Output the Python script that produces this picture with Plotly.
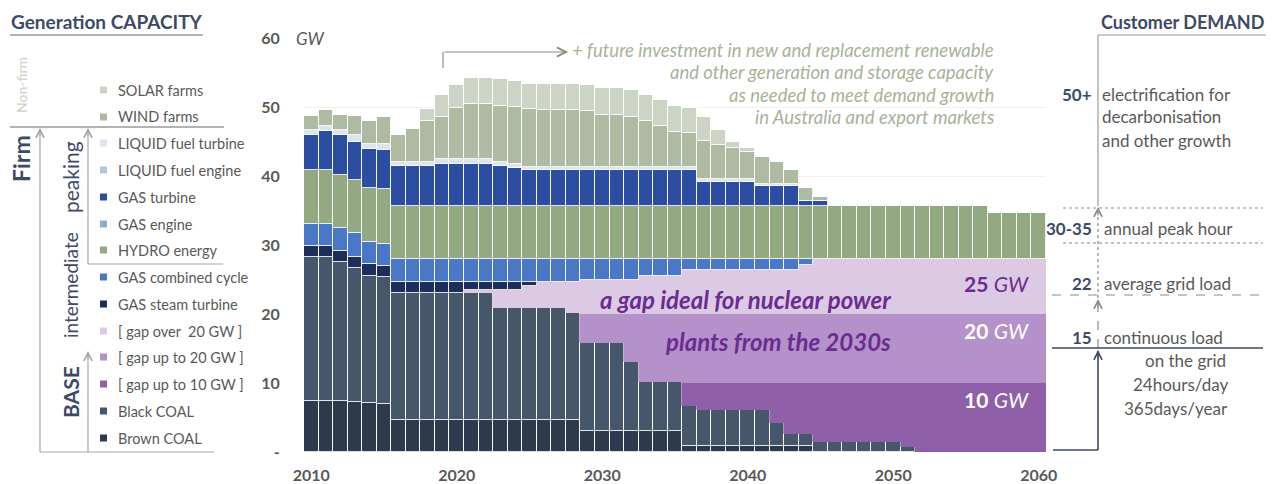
import plotly.graph_objects as go

# ---------------- data (GW) ----------------
years = list(range(2010, 2061))

brown_coal = [7.4, 7.4, 7.4, 7.3, 7.1, 6.9, 4.6, 4.6, 4.6, 4.6,
              4.6, 4.6, 4.6, 4.6, 4.6, 4.6, 4.6, 4.6, 4.6, 3.1,
              3.1, 3.1, 3.1, 3.1, 3.1, 3.1, 0.8, 0.8, 0.8, 0.8,
              0.8, 0.8, 0.8, 0.8, 0.8, 0, 0, 0, 0, 0,
              0, 0, 0, 0, 0, 0, 0, 0, 0, 0, 0]
black_coal = [20.9, 20.9, 20.1, 19.3, 18.4, 18.4, 18.5, 18.5, 18.5, 18.5,
              18.5, 18.5, 18.5, 16.2, 16.2, 16.2, 16.2, 16.2, 15.6, 12.7,
              12.7, 12.7, 9.9, 7.1, 7.1, 7.1, 5.8, 5.3, 5.3, 5.3,
              5.3, 5.3, 3.4, 1.8, 1.8, 1.5, 1.5, 1.5, 1.5, 1.5,
              1.5, 0.7, 0, 0, 0, 0, 0, 0, 0, 0, 0]
gap_up_to_10 = [0, 0, 0, 0, 0, 0, 0, 0, 0, 0,
                0, 0, 0, 0, 0, 0, 0, 0, 0, 0,
                0, 0, 0, 0, 0, 0, 3.4, 3.9, 3.9, 3.9,
                3.9, 3.9, 5.8, 7.4, 7.4, 8.5, 8.5, 8.5, 8.5, 8.5,
                8.5, 9.3, 10, 10, 10, 10, 10, 10, 10, 10, 10]
gap_up_to_20 = [0, 0, 0, 0, 0, 0, 0, 0, 0, 0,
                0, 0, 0, 0, 0, 0, 0, 0, 0, 4.2,
                4.2, 4.2, 7.0, 9.8, 9.8, 9.8, 10, 10, 10, 10,
                10, 10, 10, 10, 10, 10, 10, 10, 10, 10,
                10, 10, 10, 10, 10, 10, 10, 10, 10, 10, 10]
gap_over_20 = [0, 0, 0, 0, 0, 0, 0, 0, 0, 0,
               0, 0.4, 0.4, 2.7, 2.7, 3.3, 3.9, 3.9, 4.5, 5.0,
               5.0, 5.0, 5.0, 5.5, 5.5, 5.5, 6.4, 6.4, 6.4, 6.4,
               6.4, 6.4, 6.4, 6.4, 7.1, 8.0, 8.0, 8.0, 8.0, 8.0,
               8.0, 8.0, 8.0, 8.0, 8.0, 8.0, 8.0, 8.0, 8.0, 8.0, 8.0]
gas_steam = [1.55, 1.55, 1.7, 1.7, 1.7, 1.6, 1.6, 1.6, 1.6, 1.6,
             1.6, 1.2, 1.2, 1.2, 1.2, 0.6, 0, 0, 0, 0,
             0, 0, 0, 0, 0, 0, 0, 0, 0, 0,
             0, 0, 0, 0, 0, 0, 0, 0, 0, 0,
             0, 0, 0, 0, 0, 0, 0, 0, 0, 0, 0]
gas_cc = [3.15, 3.15, 3.2, 3.4, 3.3, 3.3, 3.3, 3.3, 3.3, 3.3,
          3.3, 3.3, 3.3, 3.3, 3.3, 3.3, 3.3, 3.3, 3.3, 3.0,
          3.0, 3.0, 3.0, 2.5, 2.5, 2.5, 1.6, 1.6, 1.6, 1.6,
          1.6, 1.6, 1.6, 1.6, 0.9, 0, 0, 0, 0, 0,
          0, 0, 0, 0, 0, 0, 0, 0, 0, 0, 0]
hydro = [7.9, 7.9, 7.7, 7.7, 7.8, 7.9, 7.6, 7.6, 7.6, 7.6,
         7.6, 7.6, 7.6, 7.6, 7.6, 7.6, 7.6, 7.6, 7.6, 7.6,
         7.6, 7.6, 7.6, 7.6, 7.6, 7.6, 7.6, 7.6, 7.6, 7.6,
         7.6, 7.6, 7.6, 7.6, 7.6, 7.6, 7.6, 7.6, 7.6, 7.6,
         7.6, 7.6, 7.6, 7.6, 7.6, 7.6, 7.6, 6.7, 6.7, 6.7, 6.7]
gas_turbine = [5.0, 5.6, 5.8, 5.6, 5.6, 5.7, 5.8, 5.8, 5.8, 6.1,
               6.1, 6.1, 6.1, 5.8, 5.5, 5.3, 5.3, 5.3, 5.3, 5.3,
               5.3, 5.3, 5.3, 5.3, 5.3, 5.3, 5.3, 3.6, 3.6, 3.6,
               3.6, 2.9, 2.9, 2.9, 0.8, 0.8, 0, 0, 0, 0,
               0, 0, 0, 0, 0, 0, 0, 0, 0, 0, 0]
liquid_turbine = [0.8, 0.8, 0.8, 0.9, 0.8, 0.8, 0.7, 0.7, 0.7, 0.7,
                  0.7, 0.7, 0.7, 0.7, 0.7, 0.4, 0.4, 0.4, 0.4, 0.4,
                  0.4, 0.4, 0.4, 0.4, 0.4, 0.4, 0.4, 0.3, 0.3, 0.3,
                  0.3, 0.3, 0.3, 0.3, 0, 0, 0, 0, 0, 0,
                  0, 0, 0, 0, 0, 0, 0, 0, 0, 0, 0]
wind = [2.0, 2.3, 2.2, 2.8, 3.3, 3.9, 3.9, 4.7, 5.8, 6.2,
        7.4, 8.0, 8.0, 8.1, 8.2, 8.4, 8.3, 8.3, 8.2, 8.1,
        7.5, 7.5, 7.3, 6.6, 5.9, 5.1, 4.9, 5.6, 5.0, 4.5,
        4.0, 4.0, 3.3, 2.1, 1.8, 0.6, 0, 0, 0, 0,
        0, 0, 0, 0, 0, 0, 0, 0, 0, 0, 0]
solar = [0, 0, 0, 0, 0, 0, 0, 0, 1.8, 3.1,
         3.4, 3.8, 3.8, 3.8, 3.7, 3.7, 3.8, 3.8, 3.8, 3.8,
         3.9, 3.9, 3.9, 3.8, 3.8, 3.7, 3.7, 3.5, 2.2, 1.0,
         0.5, 0, 0, 0, 0, 0, 0, 0, 0, 0,
         0, 0, 0, 0, 0, 0, 0, 0, 0, 0, 0]

legend_labels = ["SOLAR farms", "WIND farms", "LIQUID fuel turbine", "LIQUID fuel engine",
                 "GAS turbine", "GAS engine", "HYDRO energy", "GAS combined cycle",
                 "GAS steam turbine", "[ gap over  20 GW ]", "[ gap up to 20 GW ]",
                 "[ gap up to 10 GW ]", "Black COAL", "Brown COAL"]
x_ticks = [2010, 2020, 2030, 2040, 2050, 2060]
y_ticks = [0, 10, 20, 30, 40, 50, 60]
y_tick_text = ["-", "10", "20", "30", "40", "50", "60"]

# ---------------- styling ----------------
C = {
    "solar": "#cbd4c5", "wind": "#aebba2", "liq_t": "#dde4f0", "liq_e": "#b4c6e6",
    "gas_t": "#2b4ea2", "gas_e": "#8eaadb", "hydro": "#93a981", "gas_cc": "#4a77c7",
    "steam": "#1d2d5c", "gap_o20": "#dccae4", "gap_20": "#b491c9", "gap_10": "#8f5fa9",
    "black": "#46566b", "brown": "#2d394d",
}
legend_colors = [C["solar"], C["wind"], C["liq_t"], C["liq_e"], C["gas_t"], C["gas_e"],
                 C["hydro"], C["gas_cc"], C["steam"], C["gap_o20"], C["gap_20"],
                 C["gap_10"], C["black"], C["brown"]]
SLATE = "#3c4a66"
GREY_T = "#595959"
LINE_G = "#a6a6a6"
PURPLE = "#6b2c91"
FONT = "Lato"

# screen geometry (page body has an 8px margin, compensate for it)
OFF = 8
W, H = 1274, 484
L, R, T, B = 304, 1046, 38, 452


def px(x):
    return (x - L) / (R - L)


def py(y):
    return (B - y) / (B - T)


def nz(arr):
    return [v if v else None for v in arr]


fig = go.Figure()
series = [
    ("Brown COAL", brown_coal, C["brown"], False),
    ("Black COAL", black_coal, C["black"], False),
    ("gap up to 10 GW", gap_up_to_10, C["gap_10"], True),
    ("gap up to 20 GW", gap_up_to_20, C["gap_20"], True),
    ("gap over 20 GW", gap_over_20, C["gap_o20"], True),
    ("GAS steam turbine", gas_steam, C["steam"], False),
    ("GAS combined cycle", gas_cc, C["gas_cc"], False),
    ("HYDRO energy", hydro, C["hydro"], False),
    ("GAS turbine", gas_turbine, C["gas_t"], False),
    ("LIQUID fuel turbine", liquid_turbine, C["liq_t"], False),
    ("WIND farms", wind, C["wind"], False),
    ("SOLAR farms", solar, C["solar"], False),
]
for name, vals, col, is_gap in series:
    fig.add_trace(go.Bar(
        x=years, y=nz(vals), name=name, showlegend=False,
        marker=dict(color=col,
                    line=dict(color=col if is_gap else "rgba(255,255,255,0.85)",
                              width=0.6 if is_gap else 1)),
    ))

shapes = []
ann = []


def line(x0, y0, x1, y1, color=LINE_G, width=1.2, dash="solid"):
    shapes.append(dict(type="line", xref="paper", yref="paper",
                       x0=px(x0), y0=py(y0), x1=px(x1), y1=py(y1),
                       line=dict(color=color, width=width, dash=dash)))


def text(x, y, s, size=14, color=GREY_T, xanchor="left", angle=0, yanchor="middle"):
    ann.append(dict(xref="paper", yref="paper", x=px(x), y=py(y), text=s,
                    showarrow=False, xanchor=xanchor, yanchor=yanchor,
                    textangle=angle, font=dict(family=FONT, size=size, color=color)))


def arrow_up(x, y, color=LINE_G):
    ann.append(dict(xref="paper", yref="paper", x=px(x), y=py(y), text="",
                    showarrow=True, ax=0, ay=10, arrowhead=5, arrowsize=1.6,
                    arrowwidth=1, arrowcolor=color))


# ---------- left panel: legend ----------
text(9, 21, "<b>Generation CAPACITY</b>", size=19, color=SLATE)
line(10, 35, 203, 35, color="#9a9a9a", width=1.5)
text(22, 85, "Non-firm", size=14, color="#cdd2c5", xanchor="center", angle=-90)
line(10, 127, 224, 127, color="#9a9a9a", width=1.5)
text(21, 159, "<b>Firm</b>", size=23, color=SLATE, xanchor="center", angle=-90)
line(40, 129, 40, 452)
arrow_up(40, 128)
text(70, 177, "peaking", size=21, color=SLATE, xanchor="center", angle=-90)
line(88, 129, 88, 264)
arrow_up(88, 128)
line(88, 264, 223, 264)
text(70, 285, "intermediate", size=19, color=SLATE, xanchor="center", angle=-90)
text(70, 392, "<b>BASE</b>", size=21, color=SLATE, xanchor="center", angle=-90)
line(88, 352, 88, 452)
arrow_up(88, 351)
line(40, 452, 214, 452)

leg_y = [90, 117, 143, 170, 197, 224, 250, 277, 304, 331, 357, 384, 411, 438]
for lab, col, yy in zip(legend_labels, legend_colors, leg_y):
    shapes.append(dict(type="rect", xref="paper", yref="paper",
                       x0=px(100), x1=px(107), y0=py(yy + 3.5), y1=py(yy - 3.5),
                       fillcolor=col, line=dict(width=0)))
    text(116, yy, lab, size=14.5, color=GREY_T)

# ---------- chart annotations ----------
text(294, 38, "<i>GW</i>", size=17, color=GREY_T)
line(443, 68, 443, 52, color="#8c8c7c", width=1.2)
ann.append(dict(xref="paper", yref="paper", x=px(568), y=py(52), text="",
                showarrow=True, ax=-125, ay=0, arrowhead=5, arrowsize=1.5,
                arrowwidth=1.2, arrowcolor="#8c8c7c"))
note_col = "#a7b399"
text(996, 50, "<i>+ future investment in new and replacement renewable</i>", size=18.5,
     color=note_col, xanchor="right")
text(996, 72, "<i>and other generation and storage capacity</i>", size=18.5,
     color=note_col, xanchor="right")
text(996, 95, "<i>as needed to meet demand growth</i>", size=18.5,
     color=note_col, xanchor="right")
text(996, 117, "<i>in Australia and export markets</i>", size=18.5,
     color=note_col, xanchor="right")

text(893, 300, "<b><i>a gap ideal for nuclear power</i></b>", size=24, color=PURPLE,
     xanchor="right")
text(893, 342, "<b><i>plants from the 2030s</i></b>", size=24, color=PURPLE,
     xanchor="right")
text(1031, 283, "<b>25</b> <i>GW</i>", size=21, color=PURPLE, xanchor="right")
text(1031, 330, "<b>20</b> <i>GW</i>", size=21, color="white", xanchor="right")
text(1031, 399, "<b>10</b> <i>GW</i>", size=21, color="white", xanchor="right")

# ---------- right panel: demand ----------
text(1266, 22, "<b>Customer DEMAND</b>", size=18, color=SLATE, xanchor="right")
line(1098, 35, 1274, 35, color="#9a9a9a", width=1.2)
line(1098, 35, 1098, 206, color="#9a9a9a", width=1.2)
line(1063, 208, 1263, 208, color="#8a8a8a", width=1.2, dash="dot")
line(1063, 243, 1263, 243, color="#8a8a8a", width=1.2, dash="dot")
line(1098, 298, 1098, 210, color="#8a8a8a", width=1.2, dash="dot")
arrow_up(1098, 207, color="#8a8a8a")
line(1052, 295, 1263, 295, color="#8a8a8a", width=1.2, dash="dash")
line(1098, 348, 1098, 301, color="#8a8a8a", width=1.2, dash="dash")
arrow_up(1098, 299, color="#8a8a8a")
line(1052, 348, 1263, 348, color=SLATE, width=1.6)
line(1098, 450, 1098, 351, color=SLATE, width=1.6)
arrow_up(1098, 350, color=SLATE)
line(1053, 450, 1098, 450, color=SLATE, width=1.6)

RS = 17
text(1094, 95, "<b>50+</b>", size=RS, color=SLATE, xanchor="right")
text(1100, 95, "electrification for", size=RS)
text(1100, 117, "decarbonisation", size=RS)
text(1100, 140, "and other growth", size=RS)
text(1094, 228, "<b>30-35</b>", size=RS, color=SLATE, xanchor="right")
text(1102, 228, "annual peak hour", size=RS)
text(1094, 283, "<b>22</b>", size=RS, color=SLATE, xanchor="right")
text(1102, 283, "average grid load", size=RS)
text(1094, 337, "<b>15</b>", size=RS, color=SLATE, xanchor="right")
text(1102, 337, "continuous load", size=RS)
text(1228, 360, "on the grid", size=RS, xanchor="right")
text(1230, 384, "24hours/day", size=RS, xanchor="right")
text(1230, 408, "365days/year", size=RS, xanchor="right")

fig.update_layout(
    width=W - OFF, height=H - OFF, autosize=False,
    margin=dict(l=L - OFF, r=W - R, t=T - OFF, b=H - B, pad=0, autoexpand=False),
    paper_bgcolor="white", plot_bgcolor="white",
    barmode="stack", bargap=0,
    font=dict(family=FONT, size=14, color=GREY_T),
    shapes=shapes, annotations=ann,
    xaxis=dict(range=[2009.5, 2060.5], tickvals=x_ticks, ticktext=[str(v) for v in x_ticks],
               tickfont=dict(family=FONT, size=16, color=GREY_T, weight="bold"),
               ticks="outside", ticklen=9, tickcolor="rgba(0,0,0,0)", automargin=False,
               showgrid=False, zeroline=False, showline=False, fixedrange=True),
    yaxis=dict(range=[0, 60], tickvals=y_ticks, ticktext=y_tick_text,
               tickfont=dict(family=FONT, size=16, color=GREY_T, weight="bold"),
               ticks="outside", ticklen=20, tickcolor="rgba(0,0,0,0)", automargin=False,
               showgrid=True, gridcolor="#f1f1f1", gridwidth=1,
               zeroline=False, showline=False, fixedrange=True),
    showlegend=False,
)

fig.write_html("out.html")
